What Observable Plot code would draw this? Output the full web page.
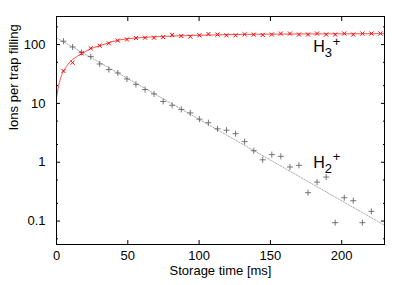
<!DOCTYPE html>
<html><head><meta charset="utf-8">
<script src="https://cdn.jsdelivr.net/npm/d3@7"></script>
<script src="https://cdn.jsdelivr.net/npm/@observablehq/plot@0.6"></script>
<style>body{margin:0;background:#fff}</style>
</head><body><div id="chart"></div>
<script>
const h3Time = [4.9, 11.3, 17.6, 24.0, 30.3, 36.7, 43.0, 49.4, 55.7, 62.1, 68.4, 74.8, 81.1, 87.5, 93.8, 100.2, 106.5, 112.9, 119.2, 125.6, 131.9, 138.3, 144.6, 151.0, 157.3, 163.7, 170.0, 176.4, 182.7, 189.1, 195.4, 201.8, 208.1, 214.5, 220.8, 227.2];
const h3Ions = [35.6, 49.4, 71, 86.5, 96, 105, 117, 122, 129, 131, 131, 134, 145.6, 140, 136.8, 143.9, 151.4, 147.8, 143.9, 143.9, 149.6, 147.8, 145.6, 148.5, 154, 154, 148, 148, 154, 148, 148, 154, 148, 154, 154, 154];
const h2Time = [4.9, 11.3, 17.6, 24.0, 30.3, 36.7, 43.0, 49.4, 55.7, 62.1, 68.4, 74.8, 81.1, 87.5, 93.8, 100.2, 106.5, 112.9, 119.2, 125.6, 131.9, 138.3, 144.6, 151.0, 157.3, 163.7, 170.0, 176.4, 182.7, 189.1, 195.4, 201.8, 208.1, 214.5, 220.8];
const h2Ions = [114, 91, 74, 62.5, 46.8, 37.6, 32.9, 26, 21.1, 17.2, 14.5, 10.8, 9.3, 7.9, 6.9, 5.4, 4.7, 3.7, 3.5, 3.06, 2.24, 1.57, 1.1, 1.35, 1.26, 0.83, 0.885, 0.304, 0.46, 0.56, 0.094, 0.25, 0.222, 0.094, 0.146];
const h3FitTime = [0, 1, 2, 3, 4, 6, 8, 11, 14, 18, 24, 30, 37, 45, 55, 65, 75, 90, 110, 130, 160, 190, 230];
const h3FitIons = [12.5, 17.5, 22.5, 27.5, 32, 39, 46, 55, 62, 71, 85, 95, 108, 121, 129, 134, 138, 142, 146, 149, 151, 152, 153];
const h2FitTime = [0, 230];
const h2FitIons = [130, 0.085];
const xTicks = [0, 50, 100, 150, 200];
const yTicks = [0.1, 1, 10, 100];
const yMinorTicks = [0.05, 0.2, 0.5, 2, 5, 20, 50, 200];
const ionNames = ["H", "H"];
const ionSubs = ["3", "2"];
const ionSups = ["+", "+"];
const ionLabelTime = [180, 180];
const ionLabelValue = [90, 0.98];

const zip = (ts, ns) => ts.map((t, i) => ({t, n: ns[i]}));
const h3 = zip(h3Time, h3Ions);
const h2 = zip(h2Time, h2Ions);
const h3Fit = zip(h3FitTime, h3FitIons);
const h2Fit = zip(h2FitTime, h2FitIons);
const labels = ionNames.map((name, i) => ({name, sub: ionSubs[i], sup: ionSups[i], t: ionLabelTime[i], n: ionLabelValue[i]}));
const blank = () => "";

const chart = Plot.plot({
  width: 407, height: 285,
  marginLeft: 56, marginRight: 23, marginTop: 16, marginBottom: 41,
  style: {fontFamily: "'Liberation Sans', Arial, sans-serif", fontSize: "13px", background: "#fff", color: "#000"},
  x: {domain: [0, 230]},
  y: {type: "log", domain: [0.04, 300]},
  marks: [
    Plot.line(h2Fit, {x: "t", y: "n", stroke: "#aaa", strokeWidth: 1, strokeDasharray: "1.5,1.5"}),
    Plot.line(h3Fit, {x: "t", y: "n", stroke: "#ff5050", strokeWidth: 1, curve: "monotone-x"}),
    Plot.dot(h2, {x: "t", y: "n", symbol: "plus", r: 2.1, stroke: "#666", strokeWidth: 0.9}),
    Plot.dot(h3, {x: "t", y: "n", symbol: "times", r: 2, stroke: "#f00", strokeWidth: 1}),
    Plot.frame({stroke: "#000"}),
    Plot.axisX(xTicks, {anchor: "bottom", tickSize: -4, tickFormat: blank, label: null}),
    Plot.axisX(xTicks, {anchor: "bottom", tickSize: 0, tickPadding: 6, fontSize: 13, label: null}),
    Plot.axisX(xTicks, {anchor: "top", tickSize: -4, tickFormat: blank, label: null}),
    Plot.axisY(yTicks, {anchor: "left", tickSize: -4, tickFormat: blank, label: null}),
    Plot.axisY(yTicks, {anchor: "right", tickSize: -4, tickFormat: blank, label: null}),
    Plot.axisY(yMinorTicks, {anchor: "left", tickSize: -2, tickFormat: blank, label: null}),
    Plot.axisY(yMinorTicks, {anchor: "right", tickSize: -2, tickFormat: blank, label: null}),
    Plot.axisY(yTicks, {anchor: "left", tickSize: 0, tickPadding: 11, fontSize: 13, tickFormat: d => String(d), label: null}),
    Plot.text(["Storage time [ms]"], {frameAnchor: "bottom", dy: 30, fontSize: 13}),
    Plot.text(["Ions per trap filling"], {frameAnchor: "left", rotate: -90, dx: -43, fontSize: 13}),
    Plot.text(labels, {x: "t", y: "n", text: "name", textAnchor: "start", fontSize: 16}),
    Plot.text(labels, {x: "t", y: "n", text: "sub", textAnchor: "start", fontSize: 13, dx: 11.5, dy: 6}),
    Plot.text(labels, {x: "t", y: "n", text: "sup", textAnchor: "start", fontSize: 13, dx: 19.5, dy: -5.5})
  ]
});
document.getElementById("chart").append(chart);
</script>
</body></html>
